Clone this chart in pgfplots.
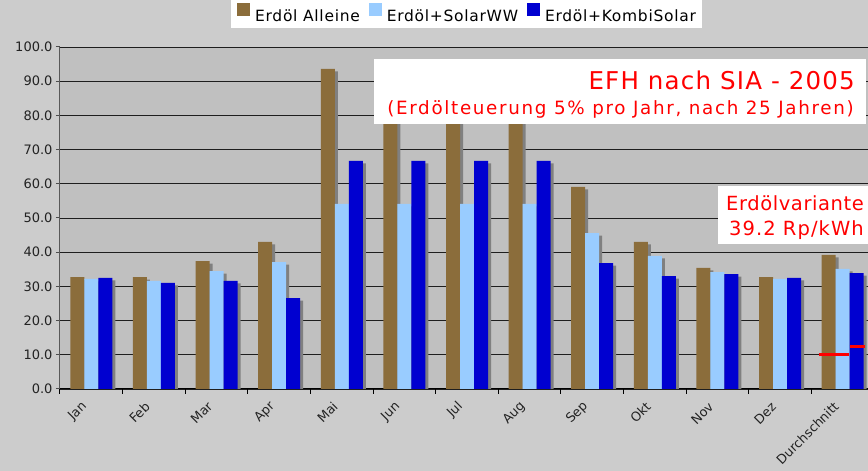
\documentclass[border=0pt]{standalone}
\usepackage{pgfplots}
\pgfplotsset{compat=1.18}
\usepackage{pgfplotstable}
\usepackage{fontspec}
\setmainfont{DejaVu Sans}
\definecolor{outerbg}{RGB}{204,204,204}
\definecolor{plotbg}{RGB}{192,192,192}
\definecolor{oilbrown}{RGB}{139,109,59}
\definecolor{lightblue}{RGB}{153,204,255}
\definecolor{darkblue}{RGB}{0,0,208}
\definecolor{shadowgray}{RGB}{128,128,128}
\definecolor{gridc}{RGB}{30,30,30}
\definecolor{labelc}{RGB}{34,34,34}

\pgfplotsset{sqlegend/.style={legend image code/.code={\fill[##1] (0pt,-0.5pt) rectangle (13pt,12.5pt);}}}

\pgfplotstableread{
x  oil   solarww kombi
0  32.7  32.2    32.5
1  32.7  31.6    31.0
2  37.4  34.5    31.6
3  43.0  37.1    26.6
4  93.6  54.1    66.7
5  93.6  54.1    66.7
6  93.6  54.1    66.7
7  93.6  54.1    66.7
8  59.1  45.6    36.8
9  43.0  38.9    33.0
10 35.4  34.2    33.6
11 32.7  32.2    32.5
12 39.2  35.1    33.9
}\datatable

\begin{document}
\begin{tikzpicture}
\path[use as bounding box, fill=outerbg] (0pt,0pt) rectangle (868pt,471pt);
\begin{axis}[
  at={(60pt,82pt)}, anchor=south west,
  scale only axis, width=814pt, height=342pt,
  xmin=-0.5, xmax=12.5, ymin=0, ymax=100,
  axis background/.style={fill=plotbg},
  axis lines*=left,
  x axis line style={black, line width=1pt},
  y axis line style={black!65, line width=1pt},
  ytick={0,10,...,100},
  ymajorgrids,
  grid style={gridc, line width=0.9pt},
  tick align=outside,
  major tick length=4pt,
  minor tick length=5pt,
  y tick style={black!70, line width=1pt},
  xtick={0,...,12},
  xticklabels={Jan,Feb,Mar,Apr,Mai,Jun,Jul,Aug,Sep,Okt,Nov,Dez,Durchschnitt},
  major x tick style={draw=none},
  minor xtick={-0.5,0.5,...,12.5},
  minor x tick style={black, line width=1pt},
  /pgf/number format/assume math mode=true,
  yticklabel style={font=\fontsize{13}{15}\selectfont, text=labelc,
    /pgf/number format/fixed, /pgf/number format/fixed zerofill, /pgf/number format/precision=1},
  xticklabel style={font=\fontsize{12.8}{15}\selectfont, text=labelc, xshift=-4pt, yshift=-9pt, rotate=45, anchor=east},
  legend style={at={(0.4994,1.0965)}, anchor=center, legend columns=3, draw=none, fill=white,
    font=\fontsize{15.5}{18}\selectfont\addfontfeature{LetterSpace=4.6}, inner xsep=6pt, inner ysep=3pt,
    nodes={inner xsep=0pt},
    /tikz/every odd column/.append style={column sep=5pt},
    /tikz/every even column/.append style={column sep=9pt}},
]
% shadows
\addplot[ybar, bar width=14pt, bar shift=-11pt, fill=shadowgray, draw=none, yshift=-2.5pt, forget plot] table[x=x,y=oil]{\datatable};
\addplot[ybar, bar width=14pt, bar shift=3pt, fill=shadowgray, draw=none, yshift=-2.5pt, forget plot] table[x=x,y=solarww]{\datatable};
\addplot[ybar, bar width=14pt, bar shift=17pt, fill=shadowgray, draw=none, yshift=-2.5pt, forget plot] table[x=x,y=kombi]{\datatable};
% bars
\addplot[ybar, bar width=14pt, bar shift=-14pt, fill=oilbrown, draw=none, sqlegend] table[x=x,y=oil]{\datatable};
\addplot[ybar, bar width=14pt, bar shift=0pt, fill=lightblue, draw=none, sqlegend] table[x=x,y=solarww]{\datatable};
\addplot[ybar, bar width=14pt, bar shift=14pt, fill=darkblue, draw=none, sqlegend] table[x=x,y=kombi]{\datatable};
\legend{Erdöl Alleine, Erdöl+SolarWW, Erdöl+KombiSolar}
% red markers
\addplot[red, line width=2.6pt, forget plot] coordinates {(11.62,10.1) (12.10,10.1)};
\addplot[red, line width=2.6pt, forget plot] coordinates {(12.11,12.4) (12.36,12.4)};
\end{axis}
\fill[white] (374pt,347pt) rectangle (866pt,412pt);
\node[anchor=base east, inner sep=0pt, text=red, font=\fontsize{24.5}{28}\selectfont\addfontfeature{LetterSpace=4.9}] at (855pt,381pt) {EFH nach SIA - 2005};
\node[anchor=base east, inner sep=0pt, text=red, font=\fontsize{18.3}{22}\selectfont\addfontfeature{LetterSpace=9.2}] at (854pt,356pt) {(Erdölteuerung 5\% pro Jahr, nach 25 Jahren)};
\fill[white] (718pt,227pt) rectangle (872pt,285pt);
\node[anchor=base east, inner sep=0pt, text=red, font=\fontsize{19.5}{23}\selectfont\addfontfeature{LetterSpace=3}] at (864pt,260pt) {Erdölvariante};
\node[anchor=base east, inner sep=0pt, text=red, font=\fontsize{19.5}{23}\selectfont\addfontfeature{LetterSpace=5.5}] at (864pt,235pt) {39.2 Rp/kWh};
\end{tikzpicture}
\end{document}
